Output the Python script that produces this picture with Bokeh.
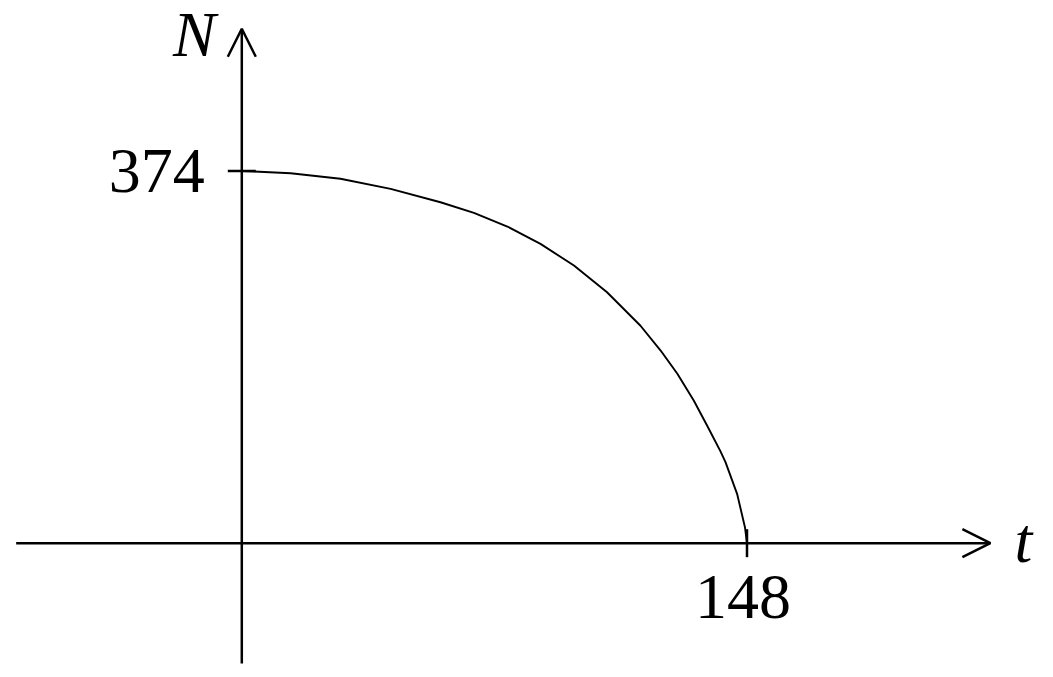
from bokeh.plotting import figure
from bokeh.models import Range1d, Arrow, OpenHead
from bokeh.core.properties import value
from bokeh.embed import file_html
from bokeh.resources import INLINE

# ---- data ----
t_vals = [0, 14.3, 28.9, 43.6, 58.2, 68.0, 77.8, 87.5, 97.3, 107.0, 116.8,
          122.7, 127.6, 132.4, 136.3, 140.2, 141.7, 145.1, 147.4, 148]
N_vals = [374, 371.8, 366.2, 356.1, 342.6, 332.0, 318.2, 300.8, 279.0, 252.2, 218.5,
          193.6, 170.2, 143.4, 118.3, 92.5, 81.5, 49.6, 16.1, 0]
x_ticks = [148]
x_tick_labels = ["148"]
y_ticks = [374]
y_tick_labels = ["374"]
x_name = "t"
y_name = "N"

# axis extents (data units)
x_axis_from, x_axis_to = -66.1, 219.3
y_axis_from, y_axis_to = -120.9, 516.9

W, H = 1037, 665
x_px_per_unit = 3.4135
y_px_per_unit = 0.9952
origin_px_x, origin_px_y = 241.3, 542.7
x0 = -origin_px_x / x_px_per_unit
y1 = origin_px_y / y_px_per_unit

p = figure(width=W, height=H, output_backend="svg", toolbar_location=None,
           x_range=Range1d(x0, x0 + W / x_px_per_unit),
           y_range=Range1d(y1 - H / y_px_per_unit, y1),
           min_border=0)
p.xaxis.visible = False
p.yaxis.visible = False
p.grid.visible = False
p.outline_line_color = None
p.background_fill_color = "white"
p.border_fill_color = "white"

AXW = 2.5
p.add_layout(Arrow(x_start=x_axis_from, y_start=0, x_end=x_axis_to, y_end=0,
                   line_width=AXW, line_color="black",
                   end=OpenHead(size=28, line_width=AXW, line_color="black")))
p.add_layout(Arrow(x_start=0, y_start=y_axis_from, x_end=0, y_end=y_axis_to,
                   line_width=AXW, line_color="black",
                   end=OpenHead(size=28, line_width=AXW, line_color="black")))

# ticks (14 px each side)
tx = 14 / x_px_per_unit
ty = 14 / y_px_per_unit
p.segment(x0=x_ticks, y0=[-ty] * len(x_ticks), x1=x_ticks, y1=[ty] * len(x_ticks),
          line_width=AXW, line_color="black")
p.segment(x0=[-tx] * len(y_ticks), y0=y_ticks, x1=[tx] * len(y_ticks), y1=y_ticks,
          line_width=AXW, line_color="black")

# curve
p.line(t_vals, N_vals, line_width=1.9, line_color="black", line_join="round")

FONT = value("Liberation Serif")
p.text(x=[0] * len(y_ticks), y=y_ticks, text=y_tick_labels, text_font=FONT,
       text_font_size="64px", text_align="right", text_baseline="alphabetic",
       x_offset=-37, y_offset=0.5, text_color="black")
p.text(x=x_ticks, y=[0] * len(x_ticks), text=x_tick_labels, text_font=FONT,
       text_font_size="64px", text_align="center", text_baseline="alphabetic",
       x_offset=-4, y_offset=54, text_color="black")
p.text(x=[0], y=[y_axis_to], text=[y_name], text_font=FONT, text_font_style="italic",
       text_font_size="64px", text_align="right", text_baseline="alphabetic",
       x_offset=-26, y_offset=6, text_color="black")
p.text(x=[x_axis_to], y=[0], text=[x_name], text_font=FONT, text_font_style="italic",
       text_font_size="64px", text_align="left", text_baseline="alphabetic",
       x_offset=24, y_offset=-3, text_color="black")

open("out.html", "w").write(file_html(p, INLINE))
